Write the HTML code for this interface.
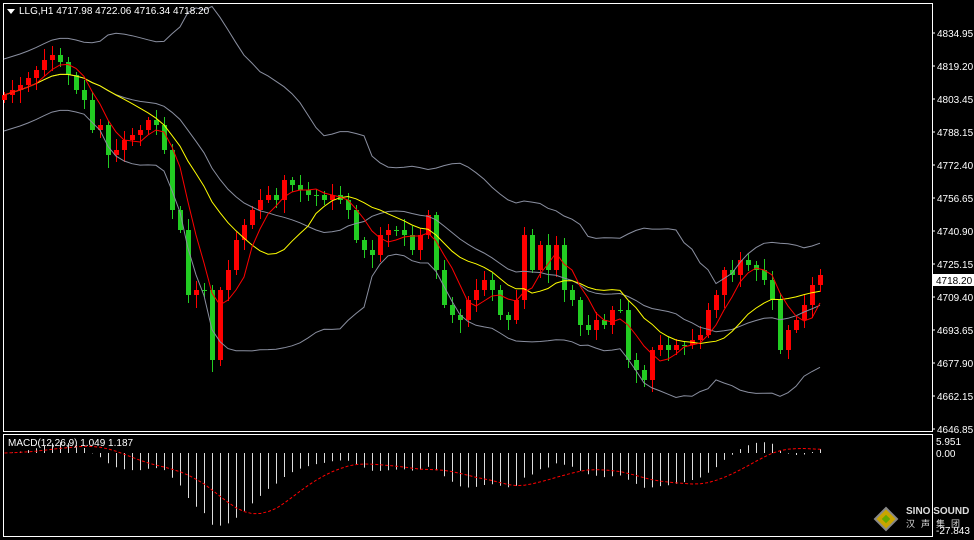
<!DOCTYPE html>
<html><head><meta charset="utf-8"><style>
body{margin:0;background:#000;width:974px;height:540px;overflow:hidden;font-family:"Liberation Sans",sans-serif}
svg{display:block}
</style></head><body>
<svg id="s" width="974" height="540" xmlns="http://www.w3.org/2000/svg">
<rect width="974" height="540" fill="#000"/>
<rect x="3.5" y="3.5" width="929" height="428" fill="none" stroke="#fff" stroke-width="1"/>
<rect x="3.5" y="434.5" width="929" height="102" fill="none" stroke="#fff" stroke-width="1"/>
<g id="g"></g>
<polygon points="7,9 15,9 11,14" fill="#fff"/>
<text x="19" y="14" fill="#fff" font-size="10">LLG,H1  4717.98 4722.06 4716.34 4718.20</text>
<text x="8" y="446" fill="#fff" font-size="10">MACD(12,26,9) 1.049 1.187</text>
<g font-size="10" fill="#fff" id="ax"></g>
<rect x="933" y="274" width="41" height="12" fill="#fff"/>
<text x="936" y="284" font-size="10" fill="#000">4718.20</text>
<text x="936" y="445" font-size="10" fill="#fff">5.951</text>
<text x="936" y="457" font-size="10" fill="#fff">0.00</text>
<text x="936" y="534" font-size="10" fill="#fff">-27.843</text>
<polygon points="886,508 897,519 886,530 875,519" fill="#c9a400" stroke="#888" stroke-width="2"/>
<rect x="883" y="516" width="6" height="6" fill="#6a0" transform="rotate(45 886 519)"/>
<text x="906" y="514" font-size="10" font-weight="bold" fill="#ddd">SINO SOUND</text>
<text x="906" y="527" font-size="9" fill="#ddd" font-family="'Noto Sans CJK SC',sans-serif" letter-spacing="6">汉声集团</text>
</svg>
<script>
var C=[95,90,85,78,70,60,55,62,75,90,100,130,125,155,150,140,135,130,120,125,150,210,230,295,290,290,360,290,270,240,225,210,200,195,200,180,185,190,195,195,200,195,200,210,240,250,255,235,230,230,235,250,235,215,270,305,315,320,300,290,280,290,315,320,300,235,270,245,270,245,290,300,325,330,320,325,310,310,360,370,380,350,345,350,345,345,340,335,310,295,270,275,260,265,270,280,300,350,330,320,305,285,275];
var g=document.getElementById('g'),h='';
function P(y){return 4834.95-(y-33)*0.475;}
for(var i=0;i<C.length;i++){var x=4+8*i,o=i?C[i-1]:100,c=C[i];var up=c<o;var col=up?'#f00':'#2c2';
var t=Math.min(o,c)-3-(i*7%9),b=Math.max(o,c)+3+(i*5%11);
h+='<line x1="'+(x+.5)+'" y1="'+t+'" x2="'+(x+.5)+'" y2="'+b+'" stroke="'+col+'"/>';
h+='<rect x="'+(x-2)+'" y="'+Math.min(o,c)+'" width="5" height="'+Math.max(1,Math.abs(c-o))+'" fill="'+col+'"/>';}
function sma(n,i){var s=0,k=0;for(var j=Math.max(0,i-n+1);j<=i;j++){s+=C[j];k++}return s/k}
var mid='',upb='',lob='',y1='',r1='';
for(i=0;i<C.length;i++){var x=4+8*i,m=sma(20,i),v=0,k=0;for(var j=Math.max(0,i-19);j<=i;j++){v+=(C[j]-m)*(C[j]-m);k++}var sd=Math.max(Math.sqrt(v/k),18);
mid+=x+','+m.toFixed(1)+' ';upb+=x+','+(m-2*sd).toFixed(1)+' ';lob+=x+','+(m+2*sd).toFixed(1)+' ';
y1+=x+','+sma(13,i).toFixed(1)+' ';r1+=x+','+sma(5,i).toFixed(1)+' ';}
h+='<polyline points="'+upb+'" fill="none" stroke="#8a8fa0"/><polyline points="'+lob+'" fill="none" stroke="#8a8fa0"/><polyline points="'+mid+'" fill="none" stroke="#8a8fa0"/>';
h+='<polyline points="'+y1+'" fill="none" stroke="#ff0"/><polyline points="'+r1+'" fill="none" stroke="#f00"/>';
// MACD
var e12=P(C[0]),e26=P(C[0]),M=[],sg='';
for(i=0;i<C.length;i++){var p=P(C[i]);e12+=(p-e12)*2/13;e26+=(p-e26)*2/27;M.push(e12-e26);}
for(i=0;i<C.length;i++){var x=4+8*i+.5,yv=453-M[i]*2.77;yv=Math.max(437,Math.min(535,yv));
h+='<line x1="'+x+'" y1="453" x2="'+x+'" y2="'+yv.toFixed(1)+'" stroke="#ddd"/>';
var s=0,k=0;for(var j=Math.max(0,i-8);j<=i;j++){s+=M[j];k++}sg+=(x)+','+(453-s/k*2.77).toFixed(1)+' ';}
h+='<polyline points="'+sg+'" fill="none" stroke="#f00" stroke-dasharray="3,2"/>';
g.innerHTML=h;
var L=['4834.95','4819.20','4803.45','4788.15','4772.40','4756.65','4740.90','4725.15','4709.40','4693.65','4677.90','4662.15','4646.85'],a='';
for(i=0;i<L.length;i++){var y=33+i*33;a+='<line x1="932" y1="'+y+'" x2="935" y2="'+y+'" stroke="#fff"/><text x="937" y="'+(y+4)+'">'+L[i]+'</text>';}
document.getElementById('ax').innerHTML=a;
</script>
</body></html>
